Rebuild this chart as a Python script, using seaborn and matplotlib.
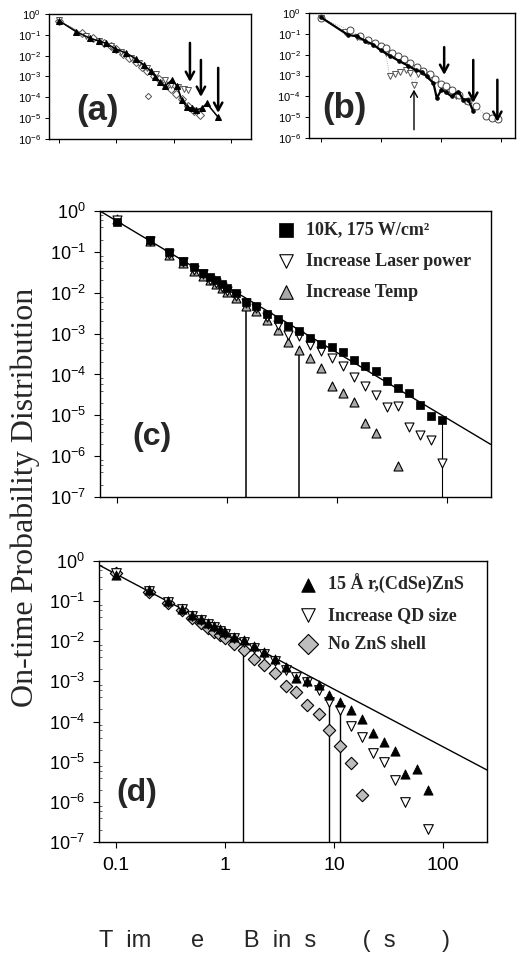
import numpy as np
import pandas as pd
import matplotlib
matplotlib.use("Agg")
import matplotlib.pyplot as plt
from matplotlib.ticker import NullLocator, LogLocator, NullFormatter
import seaborn as sns

sns.set_style("ticks")
plt.rcParams["font.family"] = ["Liberation Sans", "DejaVu Sans"]
plt.rcParams["mathtext.fontset"] = "custom"
plt.rcParams["mathtext.rm"] = "Liberation Sans"
plt.rcParams["mathtext.default"] = "regular"

nan = float("nan")

# ---------------- data: panels (c) and (d) share the time-bin grid ----------------
time_bins = [0.1, 0.2, 0.3, 0.4, 0.5, 0.6, 0.7, 0.8, 0.9, 1.0, 1.2, 1.5, 1.85, 2.3, 2.9,
             3.6, 4.5, 5.7, 7.2, 9.0, 11.4, 14.4, 18.0, 22.6, 28.5, 36.0, 45.0, 57.0, 72.0, 90.0]

c_10k = [0.55, 0.195, 0.1, 0.061, 0.042, 0.031, 0.024, 0.020, 0.0164, 0.0129, 0.0097, 0.006,
         0.0048, 0.0031, 0.0023, 0.00157, 0.00117, 0.00076, 0.00056, 0.00047, 0.00035, 0.00022,
         0.000162, 0.000123, 7.1e-5, 4.6e-5, 3.5e-5, 1.8e-5, 9.8e-6, 7.5e-6]
c_laser = [0.6, 0.18, 0.09, 0.055, 0.037, 0.028, 0.021, 0.017, 0.014, 0.011, 0.0085, 0.0055,
           0.0042, 0.0026, 0.0016, 0.00093, 0.00085, 0.00053, 0.00038, 0.00026, 0.00016, 8.5e-5,
           5.3e-5, 3.2e-5, 1.6e-5, 1.7e-5, 5.3e-6, 3.3e-6, 2.5e-6, 6.8e-7]
c_temp = [0.65, 0.18, 0.085, 0.052, 0.035, 0.026, 0.02, 0.016, 0.013, 0.0105, 0.0074, 0.0048,
          0.0035, 0.0022, 0.00123, 0.00063, 0.0004, 0.00026, 0.000145, 5.3e-5, 3.5e-5, 2.1e-5,
          6.6e-6, 3.7e-6, nan, 5.8e-7, nan, nan, nan, nan]

d_15A = [0.45, 0.19, 0.1, 0.065, 0.046, 0.036, 0.029, 0.024, 0.02, 0.017, 0.013, 0.0105,
         0.0075, 0.0055, 0.0037, 0.0023, 0.0012, 0.001, 0.0008, 0.00046, 0.0003, 0.00019,
         0.000113, 5.2e-5, 3.1e-5, 1.8e-5, 5e-6, 6.5e-6, 1.95e-6, nan]
d_qd = [0.5, 0.18, 0.095, 0.062, 0.043, 0.034, 0.027, 0.022, 0.018, 0.015, 0.012, 0.0095,
        0.0068, 0.0048, 0.0032, 0.0019, 0.0013, 0.00095, 0.0006, 0.00031, 0.00019, 7.7e-5,
        4.2e-5, 1.6e-5, 1.0e-5, 3.5e-6, 1.0e-6, nan, 2.15e-7, nan]
d_noshell = [0.5, 0.17, 0.091, 0.06, 0.039, 0.028, 0.021, 0.017, 0.0145, 0.012, 0.0085, 0.006,
             0.0037, 0.0025, 0.0016, 0.00076, 0.00055, 0.00026, 0.00015, 6.2e-5, 2.4e-5, 9.3e-6,
             1.45e-6, nan, nan, nan, nan, nan, nan, nan]

c_labels = ["10K, 175 W/cm\u00b2", "Increase Laser power", "Increase Temp"]
d_labels = ["15 \u00c5 r,(CdSe)ZnS", "Increase QD size", "No ZnS shell"]

# power-law fit lines (end points)
c_fit_t = [0.07, 250.0]
c_fit_p = [1.0, 1.95e-6]
d_fit_t = [0.07, 252.0]
d_fit_p = [0.79, 6.2e-6]

# vertical cut-off lines
c_vline_t = [1.5, 4.5, 90.0]
c_vline_top = [0.0056, 0.00048, 7.5e-6]
d_vline_t = [1.47, 9.0, 11.4]
d_vline_top = [0.006, 0.0004, 0.00026]

# ---------------- data: panel (a) ----------------
a_tri_t = [0.1, 0.2, 0.35, 0.5, 0.67, 0.95, 1.5, 2.2, 3.0, 4.0, 4.8, 5.8, 7.1, 9.3, 11.6,
           13.8, 17.0, 20.7, 25.0, 31.0, 38.0, 60.0]
a_tri_p = [0.48, 0.14, 0.068, 0.05, 0.039, 0.022, 0.013, 0.007, 0.0036, 0.0018, 9.8e-4, 5.6e-4,
           3.5e-4, 6.8e-4, 3.5e-4, 7.4e-5, 3.5e-5, 3e-5, 2.5e-5, 3e-5, 5.1e-5, 1.1e-5]
a_dia_t = [0.1, 0.25, 0.4, 0.6, 0.8, 1.0, 1.3, 1.7, 2.2, 2.8, 3.5, 4.5, 5.5, 7.0, 9.0, 11.0,
           14.0, 18.0, 23.0, 29.0]
a_dia_p = [0.45, 0.12, 0.07, 0.04, 0.028, 0.02, 0.012, 0.008, 0.005, 0.003, 0.0018, 0.0011,
           8e-4, 4.5e-4, 2.5e-4, 1.5e-4, 8e-5, 4e-5, 2.2e-5, 1.4e-5]
a_down_t = [0.1, 0.3, 0.5, 0.8, 1.2, 1.8, 2.5, 3.5, 5.0, 7.0, 9.0, 12.0, 15.0, 18.0]
a_down_p = [0.5, 0.09, 0.05, 0.03, 0.015, 0.008, 0.0045, 0.0025, 0.0013, 7e-4, 4e-4, 3e-4,
            2.5e-4, 2.2e-4]
a_out_t = [3.6]
a_out_p = [1.1e-4]
a_arrow_t = [19.3, 30.0, 60.0]
a_arrow_tail = [0.041, 0.0062, 0.0026]
a_arrow_head = [5.5e-4, 1.05e-4, 1.8e-5]

# ---------------- data: panel (b) ----------------
b_line_t = [0.1, 0.28, 0.4, 0.55, 0.75, 1.0, 1.4, 2.0, 2.8, 3.8, 4.8, 5.8, 7.5, 8.5, 10.2,
            12.0, 15.0, 19.5, 23.5, 28.5, 34.5]
b_line_p = [0.62, 0.09, 0.075, 0.045, 0.03, 0.016, 0.009, 0.005, 0.003, 0.0018, 0.0015, 9e-4,
            4.3e-4, 8.3e-5, 2.1e-4, 1.6e-4, 1e-4, 1.7e-4, 6.9e-5, 7e-5, 1.9e-5]
b_circ_t = [0.1, 0.3, 0.45, 0.6, 0.8, 1.0, 1.2, 1.5, 1.9, 2.4, 3.0, 4.0, 5.0, 6.5, 8.0, 10.0,
            12.0, 15.0, 20.0, 28.0, 39.0, 57.0, 70.0, 90.0]
b_circ_p = [0.58, 0.15, 0.08, 0.05, 0.035, 0.025, 0.02, 0.012, 0.009, 0.006, 0.004, 0.0025,
            0.0017, 0.0012, 7e-4, 4e-4, 3e-4, 2e-4, 1.2e-4, 6e-5, 3.3e-5, 1.1e-5, 9e-6, 8e-6]
b_down_t = [0.1, 0.25, 0.4, 0.6, 0.9, 1.2, 1.4, 1.7, 2.1, 2.6, 3.0, 3.55, 4.2, 5.0, 6.0, 8.0,
            10.0, 13.0, 18.0, 25.0]
b_down_p = [0.55, 0.12, 0.07, 0.045, 0.025, 0.012, 9e-4, 0.0012, 0.0014, 0.0018, 0.0013,
            3.6e-4, 0.0012, 0.0015, 0.001, 6e-4, 3e-4, 2e-4, 1e-4, 6e-5]
b_arrow_t = [11.3, 34.5, 87.0]
b_arrow_tail = [0.023, 0.0056, 6.3e-4]
b_arrow_head = [1.07e-3, 4.9e-5, 6e-6]
b_up_t = [3.55]
b_up_tail = [2.5e-6]
b_up_head = [2.1e-4]

x_ticks = [0.1, 1, 10, 100]
x_ticklabels = ["0.1", "1", "10", "100"]

# ---------------- figure ----------------
fig = plt.figure(figsize=(5.21, 9.64), dpi=100)
ax_a = fig.add_axes([0.094, 0.8558, 0.3877, 0.1297])
ax_b = fig.add_axes([0.593, 0.8568, 0.3954, 0.1297])
ax_c = fig.add_axes([0.1919, 0.4844, 0.7505, 0.2967])
ax_d = fig.add_axes([0.190, 0.1266, 0.7447, 0.2915])

for ax in (ax_a, ax_b, ax_c, ax_d):
    ax.set_xscale("log")
    ax.set_yscale("log")
    for sp in ax.spines.values():
        sp.set_color("black")
        sp.set_linewidth(1.0)

GRAY = "#a9a9a9"

# ---- panel (c)
sns.lineplot(x=c_fit_t, y=c_fit_p, color="black", lw=1.0, ax=ax_c, zorder=2,
             estimator=None, sort=False)
ax_c.vlines(c_vline_t[:2], 1e-7, c_vline_top[:2], color="black", lw=1.1, zorder=2)
ax_c.vlines(c_vline_t[2:], 1e-7, c_vline_top[2:], color="black", lw=0.8, zorder=2)
sns.scatterplot(x=time_bins, y=c_temp, marker="^", s=42, color=GRAY, edgecolor="black",
                linewidth=0.8, ax=ax_c, zorder=3, label=c_labels[2])
sns.scatterplot(x=time_bins, y=c_laser, marker="v", s=42, color="white", edgecolor="black",
                linewidth=0.8, ax=ax_c, zorder=4, label=c_labels[1])
sns.scatterplot(x=time_bins, y=c_10k, marker="s", s=26, color="black", edgecolor="black",
                linewidth=0.5, ax=ax_c, zorder=5, label=c_labels[0])

# ---- panel (d)
sns.lineplot(x=d_fit_t, y=d_fit_p, color="black", lw=1.0, ax=ax_d, zorder=2,
             estimator=None, sort=False)
ax_d.vlines(d_vline_t, 1e-7, d_vline_top, color="black", lw=1.0, zorder=2)
sns.scatterplot(x=time_bins, y=d_noshell, marker="D", s=40, color="#bdbdbd", edgecolor="black",
                linewidth=0.8, ax=ax_d, zorder=3, label=d_labels[2])
sns.scatterplot(x=time_bins, y=d_qd, marker="v", s=48, color="white", edgecolor="black",
                linewidth=0.8, ax=ax_d, zorder=4, label=d_labels[1])
sns.scatterplot(x=time_bins, y=d_15A, marker="^", s=44, color="black", edgecolor="black",
                linewidth=0.6, ax=ax_d, zorder=5, label=d_labels[0])

for ax in (ax_c, ax_d):
    ax.set_xlim(0.07, 252)
    ax.set_ylim(1e-7, 1)
    ax.set_yticks([10.0 ** -k for k in range(8)])
    ax.set_yticklabels(["$10^{%d}$" % (-k) if k else "$10^{0}$" for k in range(8)])
    ax.set_xticks(x_ticks)
    ax.xaxis.set_minor_locator(NullLocator())
    ax.yaxis.set_minor_locator(LogLocator(base=10, subs=(2, 4, 6, 8), numticks=20))
    ax.yaxis.set_minor_formatter(NullFormatter())
    ax.tick_params(axis="both", which="major", direction="out", length=4, width=0.8,
                   colors="black", labelsize=13, pad=6)
    ax.tick_params(axis="y", which="minor", direction="in", length=2, width=0.5)
    ax.set_xlabel("")
    ax.set_ylabel("")

ax_c.tick_params(axis="x", labelbottom=False)
ax_d.set_xticklabels(x_ticklabels)
ax_d.tick_params(axis="x", labelsize=14, pad=7)

legend_font = {"family": ["Liberation Serif", "DejaVu Serif"], "weight": "bold", "size": 13}
h, l = ax_c.get_legend_handles_labels()
order = [l.index(s) for s in c_labels]
leg_c = ax_c.legend([h[i] for i in order], [l[i] for i in order], loc="upper left",
                    bbox_to_anchor=(0.452, 0.964), frameon=False, prop=legend_font,
                    handlelength=1.0, handletextpad=0.6, labelspacing=0.8, borderpad=0,
                    borderaxespad=0)
for hd, sz in zip(leg_c.legend_handles, [110, 95, 95]):
    hd.set_sizes([sz])
h, l = ax_d.get_legend_handles_labels()
order = [l.index(s) for s in d_labels]
leg_d = ax_d.legend([h[i] for i in order], [l[i] for i in order], loc="upper left",
                    bbox_to_anchor=(0.515, 0.954), frameon=False, prop=legend_font,
                    handlelength=1.0, handletextpad=0.6, labelspacing=0.7, borderpad=0,
                    borderaxespad=0)
for hd, sz in zip(leg_d.legend_handles, [95, 95, 105]):
    hd.set_sizes([sz])

# ---- panel (a)
sns.lineplot(x=a_dia_t, y=a_dia_p, color="#777777", lw=0.8, marker="D", markersize=4,
             markerfacecolor="white", markeredgecolor="#555555", markeredgewidth=0.7,
             ax=ax_a, estimator=None, zorder=3)
sns.lineplot(x=a_down_t, y=a_down_p, color="#888888", lw=0.7, ls=":", marker="v",
             markersize=4.5, markerfacecolor="white", markeredgecolor="#555555",
             markeredgewidth=0.7, ax=ax_a, estimator=None, zorder=3)
sns.lineplot(x=a_tri_t, y=a_tri_p, color="black", lw=1.1, marker="^", markersize=5,
             markerfacecolor="black", markeredgecolor="black", ax=ax_a, estimator=None, zorder=4)
sns.scatterplot(x=a_out_t, y=a_out_p, marker="D", s=10, color="white", edgecolor="#555555",
                linewidth=0.7, ax=ax_a, zorder=3)
for t, p0, p1 in zip(a_arrow_t, a_arrow_tail, a_arrow_head):
    ax_a.annotate("", xy=(t, p1), xytext=(t, p0),
                  arrowprops=dict(arrowstyle="->,head_length=0.55,head_width=0.3",
                                  color="black", lw=1.8, shrinkA=0, shrinkB=0))

# ---- panel (b)
sns.lineplot(x=b_down_t, y=b_down_p, color="#999999", lw=0.6, ls=":", marker="v",
             markersize=4.5, markerfacecolor="white", markeredgecolor="#555555",
             markeredgewidth=0.7, ax=ax_b, estimator=None, zorder=3)
sns.lineplot(x=b_circ_t, y=b_circ_p, color="#999999", lw=0.6, ls=":", marker="o",
             markersize=5, markerfacecolor="white", markeredgecolor="#444444",
             markeredgewidth=0.7, ax=ax_b, estimator=None, zorder=3)
sns.lineplot(x=b_line_t, y=b_line_p, color="black", lw=1.6, marker="o", markersize=2.5,
             markerfacecolor="black", markeredgecolor="black", ax=ax_b, estimator=None, zorder=4)
for t, p0, p1 in zip(b_arrow_t, b_arrow_tail, b_arrow_head):
    ax_b.annotate("", xy=(t, p1), xytext=(t, p0),
                  arrowprops=dict(arrowstyle="->,head_length=0.55,head_width=0.3",
                                  color="black", lw=1.8, shrinkA=0, shrinkB=0))
for t, p0, p1 in zip(b_up_t, b_up_tail, b_up_head):
    ax_b.annotate("", xy=(t, p1), xytext=(t, p0),
                  arrowprops=dict(arrowstyle="->,head_length=0.45,head_width=0.25",
                                  color="black", lw=1.0, shrinkA=0, shrinkB=0))

ax_a.set_xlim(0.067, 224)
ax_b.set_xlim(0.063, 171)
for ax in (ax_a, ax_b):
    ax.set_ylim(1e-6, 1)
    ax.set_yticks([10.0 ** -k for k in range(7)])
    ax.set_yticklabels(["$10^{%d}$" % (-k) if k else "$10^{0}$" for k in range(7)])
    ax.set_xticks(x_ticks)
    ax.set_xticklabels([])
    ax.xaxis.set_minor_locator(NullLocator())
    ax.yaxis.set_minor_locator(NullLocator())
    ax.tick_params(axis="both", which="major", direction="out", length=3, width=0.7,
                   colors="black", labelsize=8, pad=3)
    ax.set_xlabel("")
    ax.set_ylabel("")
    if ax.get_legend() is not None:
        ax.get_legend().remove()

# ---- panel letters
ax_a.text(0.238, 0.232, "(a)", transform=ax_a.transAxes, ha="center", va="center",
          fontsize=25, fontweight="bold")
ax_b.text(0.17, 0.24, "(b)", transform=ax_b.transAxes, ha="center", va="center",
          fontsize=25, fontweight="bold")
ax_c.text(0.133, 0.21, "(c)", transform=ax_c.transAxes, ha="center", va="center",
          fontsize=23, fontweight="bold")
ax_d.text(0.098, 0.174, "(d)", transform=ax_d.transAxes, ha="center", va="center",
          fontsize=23, fontweight="bold")

# ---- axis titles
fig.text(0.048, 0.484, "On-time Probability Distribution", rotation=90, ha="center",
         va="center", fontsize=23, family=["Liberation Serif", "DejaVu Serif"])
fig.text(0.19, 0.018, "T  im      e      B  in  s       (  s       )", ha="left",
         va="baseline", fontsize=17)

fig.savefig("out.png", dpi=100)
